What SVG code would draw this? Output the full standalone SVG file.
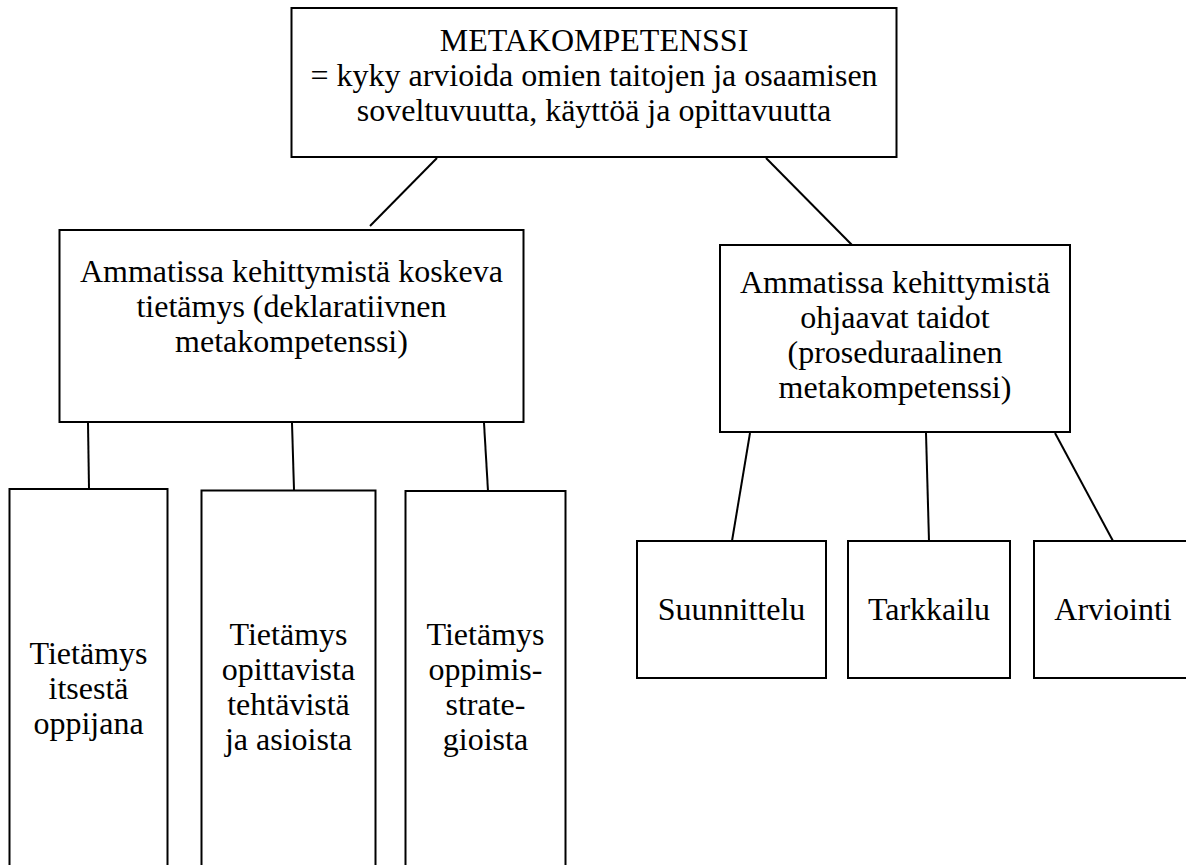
<svg xmlns="http://www.w3.org/2000/svg" width="1186" height="865" viewBox="0 0 1186 865">
  <style>
    .box { fill: #ffffff; stroke: #000000; stroke-width: 2; }
    .link { stroke: #000000; stroke-width: 2; fill: none; }
    .lbl { font-family: 'Liberation Serif', Tinos, 'Times New Roman', 'DejaVu Serif', serif; font-size: 32px; fill: #000000; text-anchor: middle; }
  </style>
  <rect width="1186" height="865" fill="#ffffff"/>

  <!-- connectors -->
  <g id="connectors">
    <line class="link" x1="437" y1="158" x2="370" y2="226"/>
    <line class="link" x1="766" y1="158" x2="852" y2="245"/>
    <line class="link" x1="88" y1="423" x2="89" y2="489"/>
    <line class="link" x1="292" y1="423" x2="294" y2="490"/>
    <line class="link" x1="484" y1="423" x2="488" y2="491"/>
    <line class="link" x1="750" y1="433" x2="732" y2="541"/>
    <line class="link" x1="926" y1="433" x2="929" y2="541"/>
    <line class="link" x1="1055" y1="433" x2="1113" y2="541"/>
  </g>

  <!-- root concept -->
  <g id="metakompetenssi">
    <rect class="box" x="291.5" y="8" width="605" height="149"/>
    <text class="lbl" x="594" y="51">METAKOMPETENSSI</text>
    <text class="lbl" x="594" y="86">= kyky arvioida omien taitojen ja osaamisen</text>
    <text class="lbl" x="594" y="121">soveltuvuutta, käyttöä ja opittavuutta</text>
  </g>

  <!-- declarative branch -->
  <g id="deklaratiivinen">
    <rect class="box" x="59.5" y="230" width="464" height="192"/>
    <text class="lbl" x="291.5" y="282">Ammatissa kehittymistä koskeva</text>
    <text class="lbl" x="291.5" y="317">tietämys (deklaratiivnen</text>
    <text class="lbl" x="291.5" y="352">metakompetenssi)</text>
  </g>

  <!-- procedural branch -->
  <g id="proseduraalinen">
    <rect class="box" x="720" y="245" width="350" height="187"/>
    <text class="lbl" x="895" y="293">Ammatissa kehittymistä</text>
    <text class="lbl" x="895" y="328">ohjaavat taidot</text>
    <text class="lbl" x="895" y="363">(proseduraalinen</text>
    <text class="lbl" x="895" y="398">metakompetenssi)</text>
  </g>

  <!-- declarative leaves -->
  <g id="itsesta-oppijana">
    <rect class="box" x="9.5" y="489" width="158" height="392"/>
    <text class="lbl" x="88.5" y="664">Tietämys</text>
    <text class="lbl" x="88.5" y="699">itsestä</text>
    <text class="lbl" x="88.5" y="734">oppijana</text>
  </g>
  <g id="opittavista-tehtavista">
    <rect class="box" x="201.5" y="490.5" width="174" height="392"/>
    <text class="lbl" x="288.5" y="645">Tietämys</text>
    <text class="lbl" x="288.5" y="680">opittavista</text>
    <text class="lbl" x="288.5" y="715">tehtävistä</text>
    <text class="lbl" x="288.5" y="750">ja asioista</text>
  </g>
  <g id="oppimisstrategioista">
    <rect class="box" x="405.5" y="491" width="160" height="392"/>
    <text class="lbl" x="485.5" y="645">Tietämys</text>
    <text class="lbl" x="485.5" y="680">oppimis-</text>
    <text class="lbl" x="485.5" y="715">strate-</text>
    <text class="lbl" x="485.5" y="750">gioista</text>
  </g>

  <!-- procedural leaves -->
  <g id="suunnittelu">
    <rect class="box" x="637" y="541" width="189" height="137"/>
    <text class="lbl" x="731.5" y="620">Suunnittelu</text>
  </g>
  <g id="tarkkailu">
    <rect class="box" x="848" y="541" width="162" height="137"/>
    <text class="lbl" x="929" y="620">Tarkkailu</text>
  </g>
  <g id="arviointi">
    <rect class="box" x="1034" y="541" width="160" height="137"/>
    <text class="lbl" x="1113" y="620">Arviointi</text>
  </g>
</svg>
